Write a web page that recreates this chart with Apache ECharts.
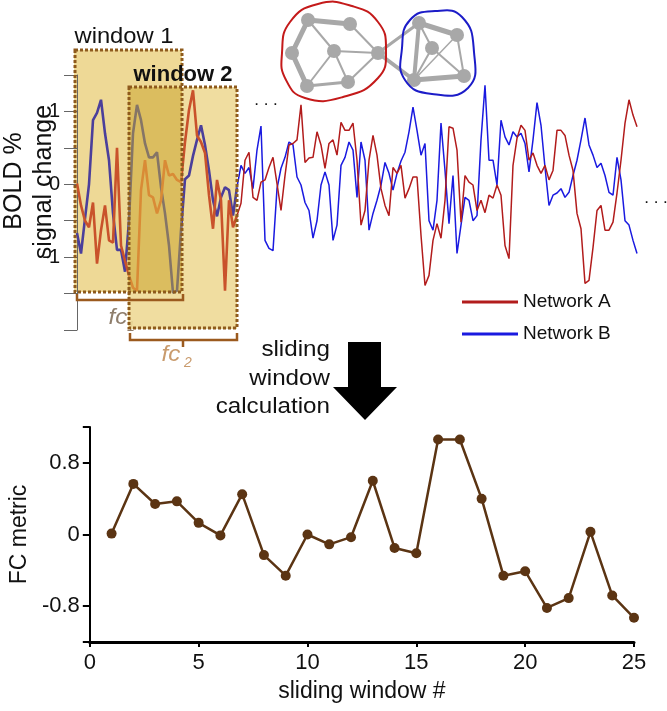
<!DOCTYPE html>
<html>
<head>
<meta charset="utf-8">
<script src="https://cdn.jsdelivr.net/npm/echarts@6.0.0/dist/echarts.min.js"></script>
<style>
  html, body { margin: 0; padding: 0; background: #fff; }
  #chart { width: 667px; height: 711px; }
</style>
</head>
<body>
<div id="chart"></div>
<script>
// BOLD time series, one value per timepoint (t = 0..140)
var netA = [
  0.01, -0.29, -0.50, -0.59, -0.25, -1.09, -0.63, -0.29, -0.77, -0.80,
  0.50, -0.84, -1.05, -1.25, -1.42, -1.46, -0.08, 0.33, -0.15, -0.18,
  -0.40, -0.22, 0.33, 0.12, 0.14, 0.06, 0.03, 0.58, 1.02, 1.29,
  0.67, 0.58, 0.43, -0.15, -0.61, 0.06, -0.22, -1.46, -0.22, -0.59,
  -0.43, -0.26, 0.33, 0.44, -0.18, -0.22, 0.03, 0.06, 0.23, 0.37,
  0.01, -0.36, 0.12, 0.54, 0.56, 0.61, 1.09, 0.30, 0.36, 0.37,
  0.72, 0.54, 0.22, 0.56, 0.61, 0.40, 0.85, 0.74, 0.74, 0.84,
  0.33, -0.56, -0.36, 0.33, 0.67, 0.40, -0.06, -0.29, -0.43, 0.23,
  0.15, 0.26, -0.19, -0.06, 0.10, 0.10, -0.70, -1.39, -1.25, -0.77,
  -0.54, -0.74, -0.22, 0.79, 0.77, 0.47, -0.52, 0.12, 0.03, -0.01,
  -0.36, -0.22, -0.39, -0.15, -0.19, -0.01, -0.15, -0.84, -1.02, 0.26,
  0.63, 0.81, 0.74, 0.33, 0.43, 0.26, 0.15, 0.26, 0.06, 0.19,
  0.74, 0.74, 0.67, 0.40, 0.19, -0.40, -0.61, -1.36, -1.32, -0.87,
  -0.36, -0.29, -0.63, -0.63, -0.52, -0.12, 0.33, 0.84, 1.16, 0.95,
  0.79
];
var netB = [
  -0.67, -0.95, -0.47, 0.00, 0.88, 0.98, 1.16, 0.70, 0.33, -0.40,
  -0.90, -0.90, -1.20, -0.50, 0.70, 1.09, 0.88, 0.56, 0.37, 0.37,
  0.44, -0.04, -0.40, -0.84, -1.49, -1.46, -0.63, 0.07, 0.12, 0.39,
  0.61, 0.81, 0.54, 0.19, -0.22, -0.44, -0.18, -0.04, -0.08, -0.43,
  -0.04, 0.26, 0.15, 0.23, -0.06, 0.47, 0.80, -0.77, -0.88, -0.91,
  -0.06, 0.22, 0.37, 0.58, 0.54, 0.10, -0.01, -0.25, -0.36, -0.74,
  -0.50, -0.01, 0.17, -0.01, -0.77, -0.56, 0.26, 0.37, 0.58, 0.47,
  -0.18, 0.58, 0.33, -0.63, -0.40, -0.22, -0.01, 0.30, 0.15, -0.08,
  0.15, 0.32, 0.44, 0.72, 1.06, 0.74, 0.40, 0.56, -0.50, -0.63,
  -0.22, 0.84, 0.19, -0.54, 0.12, -0.95, -0.56, -0.18, -0.22, -0.50,
  -0.43, 0.61, 1.36, 0.33, 0.33, -0.01, 0.88, 0.65, 0.54, 0.72,
  0.65, 0.70, 0.56, 0.17, 0.61, 1.12, 0.81, 0.23, -0.29, -0.15,
  -0.12, -0.06, -0.18, -0.11, 0.12, 0.33, 0.61, 0.91, 0.54, 0.40,
  0.23, 0.29, 0.12, -0.11, -0.15, 0.37, 0.06, -0.50, -0.56, -0.77,
  -0.95
];
var boldTicks = [1, 0, -1];

// sliding window result
var windowNo = [1, 2, 3, 4, 5, 6, 7, 8, 9, 10, 11, 12, 13, 14, 15, 16, 17, 18, 19, 20, 21, 22, 23, 24, 25];
var fcMetric = [0.01, 0.565, 0.34, 0.37, 0.13, -0.01, 0.45, -0.23, -0.46, 0.00, -0.11, -0.03, 0.60,
                -0.15, -0.21, 1.06, 1.06, 0.40, -0.46, -0.41, -0.82, -0.71, 0.03, -0.68, -0.93];
var fcTicks = [-0.8, 0, 0.8];

var winLast = 40;                 // last timepoint shown under the windows
var overlapFrom = 12.75, overlapTo = 26.25;

var FONT = 'Liberation Sans, Arial, Helvetica, sans-serif';

function pairs(arr, from, to) {
    var out = [];
    for (var i = from; i <= to; i++) out.push([i, arr[i]]);
    return out;
}

var myChart = echarts.init(document.getElementById('chart'));

// network icon
var nodes = {
    n1: [308, 20], n2: [350, 24], n3: [292, 53], n4: [334, 51], n5: [378, 53], n6: [307, 86], n7: [348, 82],
    m1: [419, 23], m2: [457, 35], m3: [432, 48], m4: [414, 80], m5: [464, 76]
};
var edges = [
    ['n1', 'n2', 5], ['n1', 'n3', 5], ['n3', 'n6', 5], ['n1', 'n4', 2], ['n4', 'n6', 2], ['n4', 'n7', 2],
    ['n4', 'n5', 2], ['n2', 'n5', 2], ['n6', 'n7', 3], ['n7', 'n5', 2], ['n5', 'm1', 3], ['n5', 'm4', 4],
    ['m1', 'm2', 5], ['m1', 'm4', 4], ['m4', 'm5', 5], ['m1', 'm3', 2], ['m3', 'm4', 2], ['m3', 'm5', 2],
    ['m2', 'm5', 2], ['m2', 'm4', 1.5]
];
var gfx = [];
edges.forEach(function (e) {
    var a = nodes[e[0]], b = nodes[e[1]];
    gfx.push({type: 'line', z: 3, shape: {x1: a[0], y1: a[1], x2: b[0], y2: b[1]},
        style: {stroke: '#a8a8a8', lineWidth: e[2], lineCap: 'round'}});
});
Object.keys(nodes).forEach(function (k) {
    gfx.push({type: 'circle', z: 3, shape: {cx: nodes[k][0], cy: nodes[k][1], r: 7}, style: {fill: '#a8a8a8'}});
});
gfx.push({type: 'polygon', z: 3, shape: {smooth: 0.5, points: [[282, 53], [290, 22], [318, 4], [352, 6], [378, 22],
    [386, 50], [378, 78], [343, 97], [305, 98], [286, 80]]}, style: {fill: 'none', stroke: '#c41a1a', lineWidth: 2}});
gfx.push({type: 'polygon', z: 3, shape: {smooth: 0.5, points: [[402, 48], [410, 20], [435, 11], [462, 17],
    [474, 52], [468, 88], [432, 94], [405, 80]]}, style: {fill: 'none', stroke: '#1c1cc8', lineWidth: 2}});

function label(txt, x, y, size, opts) {
    opts = opts || {};
    var st = {text: txt, x: 0, y: 0, fontSize: size, fontFamily: FONT, fill: '#111',
        textAlign: 'center', align: 'center', textVerticalAlign: 'middle', verticalAlign: 'middle'};
    for (var k in opts.style || {}) st[k] = opts.style[k];
    var el = {type: 'text', z: opts.z != null ? opts.z : 6, x: x, y: y, style: st};
    if (opts.rotation) el.rotation = opts.rotation;
    if (opts.scaleX) el.scaleX = opts.scaleX;
    return el;
}

// windows
var dotted = {fill: 'none', stroke: '#8e5a1c', lineWidth: 3, lineDash: [3, 2]};
gfx.push({type: 'rect', z: 0, shape: {x: 74, y: 50, width: 108, height: 242}, style: {fill: '#eed996'}});
gfx.push(label('fc', 118, 318, 22, {z: 0.5, scaleX: 1.1,
    style: {fontStyle: 'italic', fill: '#8f7e6c'}}));
gfx.push(label('1', 131, 327, 14, {z: 0.5, style: {fontStyle: 'italic', fill: '#8f7e6c'}}));
gfx.push({type: 'rect', z: 1, shape: {x: 128, y: 87, width: 109, height: 242}, style: {fill: '#eed996', opacity: 0.9}});
gfx.push({type: 'rect', z: 1.2, shape: {x: 128, y: 87, width: 54, height: 205}, style: {fill: '#dbbd5f'}});
gfx.push({type: 'rect', z: 5, shape: {x: 75, y: 50, width: 107, height: 242}, style: dotted});
gfx.push({type: 'rect', z: 5, shape: {x: 129, y: 87, width: 108, height: 241}, style: dotted});
// brackets
var br = {fill: 'none', stroke: '#9b5a1e', lineWidth: 2.5};
gfx.push({type: 'polyline', z: 5, shape: {points: [[77, 294], [77, 300], [183, 300], [183, 294]]}, style: br});
gfx.push({type: 'polyline', z: 5, shape: {points: [[130, 333], [130, 340], [237, 340], [237, 333]]}, style: br});
gfx.push({type: 'line', z: 5, shape: {x1: 183, y1: 340, x2: 183, y2: 347}, style: br});
gfx.push(label('fc', 171, 355, 22, {scaleX: 1.1, style: {fontStyle: 'italic', fill: '#c99b6d'}}));
gfx.push(label('2', 188, 363, 14, {style: {fontStyle: 'italic', fill: '#c99b6d'}}));

gfx.push(label('window 1', 124, 37, 22, {scaleX: 1.08}));
gfx.push(label('window 2', 183, 75, 22, {scaleX: 1.0, style: {fontWeight: 'bold'}}));
gfx.push(label('BOLD %', 14, 181, 25, {rotation: Math.PI / 2}));
gfx.push(label('signal change', 44, 182, 25, {rotation: Math.PI / 2}));
gfx.push(label('. . .', 266, 100, 17));
gfx.push(label('. . .', 656, 198, 17));
var right = {textAlign: 'right', align: 'right'};
gfx.push(label('sliding', 330, 350, 22, {scaleX: 1.1, style: right}));
gfx.push(label('window', 330, 379, 22, {scaleX: 1.1, style: right}));
gfx.push(label('calculation', 330, 407, 22, {scaleX: 1.1, style: right}));
// arrow
gfx.push({type: 'polygon', z: 6, shape: {points: [[348, 342], [381, 342], [381, 387], [397, 387], [365, 420],
    [333, 387], [348, 387]]}, style: {fill: '#000'}});

var option = {
    animation: false,
    backgroundColor: '#fff',
    textStyle: {fontFamily: FONT},
    grid: [
        {left: 74, top: 75, width: 563, height: 255},
        {left: 75, top: 427, width: 559, height: 215}
    ],
    legend: {
        data: ['Network A', 'Network B'],
        orient: 'vertical',
        left: 457, top: 287,
        icon: 'rect', itemWidth: 56, itemHeight: 3, itemGap: 12,
        textStyle: {fontSize: 19, color: '#111', lineHeight: 20, fontFamily: FONT}
    },
    visualMap: [
        {type: 'piecewise', show: false, seriesIndex: 2, dimension: 0, pieces: [
            {lt: overlapFrom, color: '#4b3f9b'}, {gte: overlapFrom, lte: overlapTo, color: '#857566'},
            {gt: overlapTo, color: '#4b3f9b'}]},
        {type: 'piecewise', show: false, seriesIndex: 3, dimension: 0, pieces: [
            {lt: overlapFrom, color: '#c9522b'}, {gte: overlapFrom, lte: overlapTo, color: '#d98b36'},
            {gt: overlapTo, color: '#c9522b'}]}
    ],
    xAxis: [
        {gridIndex: 0, type: 'value', min: -0.75, max: 140, show: false},
        {gridIndex: 1, type: 'value', min: 0, max: 25, interval: 5,
            axisLine: {onZero: false, lineStyle: {color: '#000', width: 3}},
            axisTick: {length: 5, lineStyle: {color: '#000', width: 2}},
            axisLabel: {fontSize: 22, color: '#111', margin: 10},
            splitLine: {show: false},
            name: 'sliding window #', nameLocation: 'middle', nameGap: 38,
            nameTextStyle: {fontSize: 23, color: '#111'}}
    ],
    yAxis: [
        {gridIndex: 0, type: 'value', min: -2, max: 1.5, interval: 0.5,
            axisLine: {show: true, lineStyle: {color: '#666', width: 1}},
            axisTick: {show: true, length: 13, lineStyle: {color: '#666'}},
            axisLabel: {fontSize: 20, color: '#111', margin: 14, formatter: function (v) {
                return boldTicks.indexOf(v) >= 0 ? String(v) : '';
            }},
            splitLine: {show: false}},
        {gridIndex: 1, type: 'value', min: -1.2, max: 1.2, interval: 0.4,
            axisLine: {show: true, lineStyle: {color: '#000', width: 2}},
            axisTick: {show: true, length: 7, lineStyle: {color: '#000', width: 2},
                customValues: [-1.2, -0.8, 0, 0.8, 1.2]},
            axisLabel: {fontSize: 22, color: '#111', margin: 10, customValues: fcTicks,
                formatter: function (v) { return v === 0 ? '0' : v.toFixed(1); }},
            splitLine: {show: false},
            name: 'FC metric', nameLocation: 'middle', nameRotate: 90, nameGap: 38,
            nameTextStyle: {fontSize: 23, color: '#111'}}
    ],
    series: [
        {name: 'Network B', type: 'line', xAxisIndex: 0, yAxisIndex: 0, data: pairs(netB, winLast, netB.length - 1),
            color: '#1a1ae0', symbol: 'none', lineStyle: {width: 1.5}},
        {name: 'Network A', type: 'line', xAxisIndex: 0, yAxisIndex: 0, data: pairs(netA, winLast, netA.length - 1),
            color: '#b21c1c', symbol: 'none', lineStyle: {width: 1.5}},
        {name: 'B windows', type: 'line', xAxisIndex: 0, yAxisIndex: 0, data: pairs(netB, 0, winLast),
            symbol: 'none', lineStyle: {width: 2.6}},
        {name: 'A windows', type: 'line', xAxisIndex: 0, yAxisIndex: 0, data: pairs(netA, 0, winLast),
            symbol: 'none', lineStyle: {width: 2.6}},
        {name: 'FC', type: 'line', xAxisIndex: 1, yAxisIndex: 1,
            data: windowNo.map(function (w, i) { return [w, fcMetric[i]]; }),
            color: '#5b3413', symbol: 'circle', symbolSize: 10, lineStyle: {width: 2.5}}
    ],
    graphic: gfx
};
myChart.setOption(option);
</script>
</body>
</html>
